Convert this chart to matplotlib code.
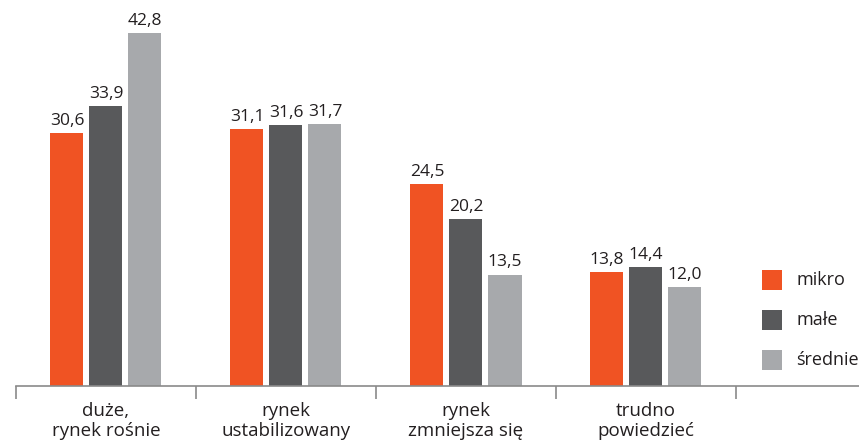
import matplotlib
matplotlib.use("Agg")
import matplotlib.pyplot as plt
from matplotlib.patches import Rectangle
import numpy as np

plt.rcParams['font.family'] = ['Open Sans', 'DejaVu Sans']

categories = ["duże,\nrynek rośnie", "rynek\nustabilizowany", "rynek\nzmniejsza się", "trudno\npowiedzieć"]
series_names = ["mikro", "małe", "średnie"]
mikro = [30.6, 31.1, 24.5, 13.8]
male = [33.9, 31.6, 20.2, 14.4]
srednie = [42.8, 31.7, 13.5, 12.0]
colors = ["#F05323", "#58595B", "#A7A9AC"]

W, H = 859, 440
fig = plt.figure(figsize=(W / 100, H / 100), dpi=100)

# axes geometry in pixels
left_px, base_px = 16, 386
px_per_unit_x = 180.0
px_per_unit_y = 8.255
ymax = 46
ax = fig.add_axes([left_px / W, (H - base_px) / H, (W - left_px) / W, ymax * px_per_unit_y / H])
ax.set_xlim(-0.5, -0.5 + (W - left_px) / px_per_unit_x)
ax.set_ylim(0, ymax)

x = np.arange(len(categories))
bar_w = 33 / px_per_unit_x
pitch = 39 / px_per_unit_x
text_color = "#231F20"

for i, (vals, col) in enumerate(zip([mikro, male, srednie], colors)):
    pos = x + (i - 1) * pitch
    bars = ax.bar(pos, vals, width=bar_w, color=col, linewidth=0)
    for b, v in zip(bars, vals):
        ax.annotate(f"{v:.1f}".replace(".", ","), (b.get_x() + b.get_width() / 2, v),
                    xytext=(0, 3), textcoords="offset points", ha="center", va="bottom",
                    fontsize=12.5, color=text_color)

for s in ["top", "right", "left"]:
    ax.spines[s].set_visible(False)
ax.spines["bottom"].set_color("#8A8A8A")
ax.spines["bottom"].set_linewidth(1.2)
ax.set_yticks([])
ax.set_xticks(np.arange(-0.5, 4.0, 1.0))
ax.set_xticklabels([])
ax.tick_params(axis="x", length=9, width=1.2, color="#8A8A8A", direction="out")

for xi, lab in zip(x, categories):
    ax.text(xi, -1.9, lab, ha="center", va="top", fontsize=13.5, color=text_color,
            linespacing=1.15)

# legend
for k, (name, col) in enumerate(zip(series_names, colors)):
    cy = 280 + 40 * k
    fig.add_artist(Rectangle((762 / W, (H - cy - 10) / H), 20 / W, 20 / H,
                             transform=fig.transFigure, color=col, linewidth=0))
    fig.text(796 / W, (H - cy) / H, name, ha="left", va="center", fontsize=13, color=text_color)

fig.savefig("out.png", dpi=100)
